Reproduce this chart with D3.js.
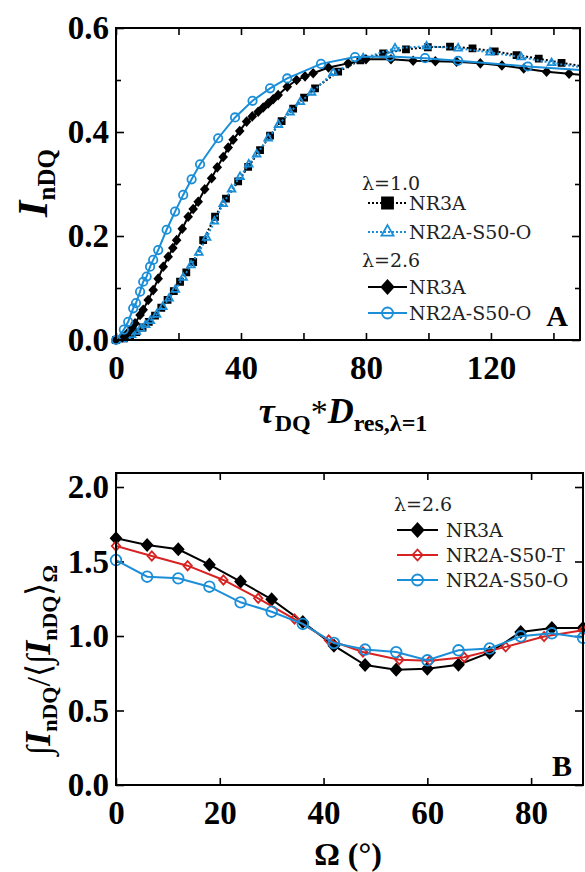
<!DOCTYPE html>
<html><head><meta charset="utf-8">
<script src="https://cdn.jsdelivr.net/npm/d3@7"></script>
<style>body{margin:0;background:#fff} svg{display:block}</style>
</head><body><svg id="c" width="585" height="872"></svg>
<script>
// ---------- Panel A data ----------
const aXTicks = [0, 40, 80, 120];
const aYTicks = [0.0, 0.2, 0.4, 0.6];
// lambda = 1.0, NR3A (black squares, dotted)
const a10_nr3a_x = [0, 2.5, 4.5, 6.5, 8.5, 10.5, 12.5, 14.5, 16.5, 18.5, 20.5, 22.5, 24.7, 27.9, 31.7, 35.2, 39.1, 42.3, 46.1, 49.3, 53, 56.7, 60.2, 63.7, 71.1, 78.2, 85.5, 92.8, 99.8, 106.9, 114.1, 121.2, 128.2, 135.3, 142.6, 149.7];
const a10_nr3a_y = [0, 0.003, 0.008, 0.015, 0.024, 0.035, 0.047, 0.062, 0.077, 0.094, 0.112, 0.130, 0.150, 0.192, 0.237, 0.272, 0.305, 0.333, 0.365, 0.393, 0.421, 0.445, 0.466, 0.484, 0.516, 0.538, 0.551, 0.559, 0.563, 0.564, 0.561, 0.555, 0.548, 0.541, 0.533, 0.526];
// lambda = 1.0, NR2A-S50-O (blue open triangles, dotted)
const a10_o_x = [0, 2, 3.5, 5, 6.5, 8, 9.5, 11, 13, 15, 17, 19, 21.5, 24, 26.5, 29, 31.5, 34.3, 37, 39.7, 42.5, 45, 48.7, 52, 55.7, 59, 62.6, 69.5, 79.1, 89.3, 99.4, 109.5, 119.7, 129.6, 139.4, 149.3];
const a10_o_y = [0, 0.002, 0.005, 0.010, 0.016, 0.022, 0.029, 0.037, 0.049, 0.064, 0.080, 0.097, 0.120, 0.144, 0.168, 0.197, 0.228, 0.262, 0.290, 0.314, 0.338, 0.357, 0.388, 0.414, 0.438, 0.458, 0.476, 0.514, 0.542, 0.561, 0.565, 0.561, 0.553, 0.544, 0.533, 0.524];
// lambda = 2.6, NR3A (black diamonds, solid)
const a26_nr3a_x = [0, 2, 3.5, 5, 6.1, 7.7, 8.7, 10.3, 11.9, 13.5, 15.1, 16.7, 18.2, 19.4, 21.2, 23.1, 24.7, 26.3, 28.4, 30.6, 32.4, 34.3, 35.9, 37.5, 39.6, 41.8, 43.6, 45.5, 47.1, 48.7, 50.3, 51.9, 54.8, 57.8, 60.5, 63.1, 68, 74.3, 80, 88, 95.1, 102.2, 109, 116.6, 123.5, 130.5, 137.8, 145, 155];
const a26_nr3a_y = [0, 0.005, 0.012, 0.022, 0.032, 0.048, 0.058, 0.077, 0.096, 0.118, 0.141, 0.160, 0.177, 0.192, 0.214, 0.237, 0.252, 0.266, 0.290, 0.311, 0.332, 0.352, 0.370, 0.385, 0.402, 0.420, 0.430, 0.439, 0.447, 0.455, 0.463, 0.471, 0.487, 0.500, 0.507, 0.513, 0.524, 0.532, 0.540, 0.540, 0.537, 0.536, 0.535, 0.532, 0.528, 0.522, 0.516, 0.512, 0.507];
// lambda = 2.6, NR2A-S50-O (blue open circles, solid)
const a26_o_x = [0, 2.5, 3.9, 5.5, 6.4, 7.7, 8.7, 9.8, 10.9, 11.9, 13.5, 16.2, 18.9, 21.5, 24.2, 26.9, 32.7, 38.1, 43.7, 49.3, 54.8, 65.6, 76.5, 87.7, 98.9, 109.5, 131.8, 154];
const a26_o_y = [0, 0.020, 0.035, 0.061, 0.071, 0.093, 0.112, 0.122, 0.141, 0.154, 0.173, 0.212, 0.247, 0.279, 0.309, 0.338, 0.388, 0.428, 0.460, 0.484, 0.503, 0.531, 0.544, 0.545, 0.542, 0.537, 0.526, 0.517];

// ---------- Panel B data ----------
const bXTicks = [0, 20, 40, 60, 80];
const bYTicks = [0.0, 0.5, 1.0, 1.5, 2.0];
const b_nr3a_x = [0, 6, 12, 18, 24, 30, 36, 42, 48, 54, 60, 66, 72, 78, 84, 90];
const b_nr3a_y = [1.656, 1.611, 1.582, 1.479, 1.365, 1.246, 1.094, 0.935, 0.805, 0.774, 0.781, 0.807, 0.888, 1.027, 1.054, 1.054];
const b_t_x = [0, 6.9, 13.8, 20.7, 27.4, 34.4, 41, 47.6, 54.6, 60.5, 67.1, 75.1, 82.5, 90];
const b_t_y = [1.604, 1.537, 1.472, 1.376, 1.253, 1.114, 0.973, 0.893, 0.841, 0.834, 0.857, 0.927, 0.996, 1.038];
const b_o_x = [0, 6, 12, 18, 24, 30, 36, 42, 48, 54, 60, 66, 72, 78, 84, 90];
const b_o_y = [1.510, 1.398, 1.387, 1.331, 1.226, 1.163, 1.081, 0.953, 0.909, 0.892, 0.837, 0.904, 0.916, 0.998, 1.018, 0.988];

// ---------- drawing ----------
const svg = d3.select('#c');
const FONT = '"Liberation Serif","Times New Roman",serif';
const LFONT = '"DejaVu Serif",serif';
const BLUE = '#1b8ed8', RED = '#d62222', BLACK = '#000';
const zip = (xs, ys) => xs.map((x, i) => [x, ys[i]]);

function shape(g, type, x, y, s, color, fill) {
  let p;
  if (type === 'diamond') p = `M${x},${y - s * 1.1}L${x + s},${y}L${x},${y + s * 1.1}L${x - s},${y}Z`;
  else if (type === 'square') p = `M${x - s},${y - s}h${2 * s}v${2 * s}h${-2 * s}Z`;
  else if (type === 'triangle') p = `M${x},${y - s * 1.15}L${x + s},${y + s * 0.6}L${x - s},${y + s * 0.6}Z`;
  if (type === 'circle') {
    g.append('circle').attr('cx', x).attr('cy', y).attr('r', s)
      .attr('fill', fill ? color : 'none').attr('stroke', color).attr('stroke-width', 1.8);
  } else {
    g.append('path').attr('d', p).attr('fill', fill ? color : 'none')
      .attr('stroke', color).attr('stroke-width', 1.8);
  }
}

function panel(cfg) {
  const { x, y, id } = cfg;
  const [x0, x1] = x.range(), [y0, y1] = y.range();
  const g = svg.append('g');
  g.append('clipPath').attr('id', id).append('rect')
    .attr('x', x0).attr('y', y1).attr('width', x1 - x0).attr('height', y0 - y1);
  const font = a => a.selectAll('text').attr('font-family', FONT).attr('font-weight', 'bold')
    .attr('font-size', 33).attr('fill', '#000');
  const clean = a => { a.select('.domain').remove(); a.selectAll('line').attr('stroke', '#000').attr('stroke-width', 1.6); };
  const bx = g.append('g').attr('transform', `translate(0,${y0})`)
    .call(d3.axisBottom(x).tickValues(cfg.xTicksAll).tickSizeInner(-7).tickSizeOuter(0).tickPadding(16)
      .tickFormat(d => cfg.xTicks.includes(d) ? d3.format('d')(d) : ''));
  font(bx); clean(bx);
  const tx = g.append('g').attr('transform', `translate(0,${y1})`)
    .call(d3.axisTop(x).tickValues(cfg.xTicksAll).tickSizeInner(-7).tickSizeOuter(0).tickFormat(''));
  clean(tx);
  const ly = g.append('g').attr('transform', `translate(${x0},0)`)
    .call(d3.axisLeft(y).tickValues(cfg.yTicks).tickSizeInner(-8).tickSizeOuter(0).tickPadding(7)
      .tickFormat(d3.format('.1f')));
  font(ly); clean(ly);
  const ry = g.append('g').attr('transform', `translate(${x1},0)`)
    .call(d3.axisRight(y).tickValues(cfg.yTicks).tickSizeInner(-8).tickSizeOuter(0).tickFormat(''));
  clean(ry);
  if (cfg.yMinor) {
    const m1 = g.append('g').attr('transform', `translate(${x0},0)`)
      .call(d3.axisLeft(y).tickValues(cfg.yMinor).tickSizeInner(-5).tickSizeOuter(0).tickFormat(''));
    clean(m1);
    const m2 = g.append('g').attr('transform', `translate(${x1},0)`)
      .call(d3.axisRight(y).tickValues(cfg.yMinor).tickSizeInner(-5).tickSizeOuter(0).tickFormat(''));
    clean(m2);
  }
  const line = d3.line().x(d => x(d[0])).y(d => y(d[1]));
  cfg.series.forEach(s => {
    const pts = zip(s.x, s.y);
    g.append('path').attr('d', line(pts)).attr('fill', 'none').attr('stroke', s.color)
      .attr('stroke-width', s.lw || 2).attr('stroke-dasharray', s.dash || null)
      .attr('clip-path', `url(#${id})`);
    const mg = g.append('g');
    pts.filter(d => d[0] <= x.domain()[1] + 0.01).forEach(d =>
      shape(mg, s.marker, x(d[0]), y(d[1]), s.ms, s.color, s.fill));
  });
  g.append('rect').attr('x', x0).attr('y', y1).attr('width', x1 - x0).attr('height', y0 - y1)
    .attr('fill', 'none').attr('stroke', '#000').attr('stroke-width', 2);
  return g;
}

// Panel A
const xA = d3.scaleLinear().domain([0, 148.5]).range([116, 580]);
const yA = d3.scaleLinear().domain([0, 0.6]).range([340, 28]);
panel({
  id: 'clipA', x: xA, y: yA, xTicks: aXTicks, xTicksAll: [0, 20, 40, 60, 80, 100, 120, 140],
  yTicks: aYTicks, yMinor: [0.1, 0.3, 0.5],
  series: [
    { x: a10_nr3a_x, y: a10_nr3a_y, color: BLACK, dash: '2,2', marker: 'square', ms: 3, fill: true },
    { x: a10_o_x, y: a10_o_y, color: BLUE, dash: '2,2', marker: 'triangle', ms: 3.8, fill: false },
    { x: a26_nr3a_x, y: a26_nr3a_y, color: BLACK, marker: 'diamond', ms: 3.6, fill: true },
    { x: a26_o_x, y: a26_o_y, color: BLUE, marker: 'circle', ms: 4.2, fill: false }
  ]
});

// Panel B
const xB = d3.scaleLinear().domain([0, 90]).range([116, 583]);
const yB = d3.scaleLinear().domain([0, 2.094]).range([785, 473]);
panel({
  id: 'clipB', x: xB, y: yB, xTicks: bXTicks, xTicksAll: bXTicks,
  yTicks: bYTicks,
  series: [
    { x: b_nr3a_x, y: b_nr3a_y, color: BLACK, marker: 'diamond', ms: 5.2, fill: true },
    { x: b_t_x, y: b_t_y, color: RED, marker: 'diamond', ms: 4.2, fill: false },
    { x: b_o_x, y: b_o_y, color: BLUE, marker: 'circle', ms: 5.3, fill: false }
  ]
});

// ---------- legends ----------
function legendRow(x0, x1, gap, yy, color, dash, marker, ms, fill, label) {
  svg.append('line').attr('x1', x0).attr('x2', x1).attr('y1', yy).attr('y2', yy)
    .attr('stroke', color).attr('stroke-width', 2).attr('stroke-dasharray', dash || null);
  shape(svg, marker, (x0 + x1) / 2, yy, ms, color, fill);
  svg.append('text').attr('x', x1 + gap).attr('y', yy + 7).text(label)
    .attr('font-family', LFONT).attr('font-size', 19).attr('fill', '#222');
}
function ltext(x, y, t) {
  svg.append('text').attr('x', x).attr('y', y).text(t)
    .attr('font-family', LFONT).attr('font-size', 19).attr('fill', '#222');
}
ltext(362, 190, 'λ=1.0');
legendRow(368, 407, 2, 203, BLACK, '2,2', 'square', 5.5, true, 'NR3A');
legendRow(368, 407, 2, 232, BLUE, '2,2', 'triangle', 6, false, 'NR2A-S50-O');
ltext(362, 267, 'λ=2.6');
legendRow(368, 407, 2, 287, BLACK, null, 'diamond', 6, true, 'NR3A');
legendRow(368, 407, 2, 313, BLUE, null, 'circle', 5.5, false, 'NR2A-S50-O');
svg.append('text').attr('x', 557).attr('y', 326).attr('text-anchor', 'middle').text('A')
  .attr('font-family', FONT).attr('font-weight', 'bold').attr('font-size', 30);

ltext(394, 511, 'λ=2.6');
legendRow(397, 438, 8, 530, BLACK, null, 'diamond', 6, true, 'NR3A');
legendRow(397, 438, 8, 555, RED, null, 'diamond', 5, false, 'NR2A-S50-T');
legendRow(397, 438, 8, 580, BLUE, null, 'circle', 5.5, false, 'NR2A-S50-O');
svg.append('text').attr('x', 562).attr('y', 776).attr('text-anchor', 'middle').text('B')
  .attr('font-family', FONT).attr('font-weight', 'bold').attr('font-size', 30);

// ---------- axis titles ----------
const tA = svg.append('text').attr('x', 343).attr('y', 423).attr('text-anchor', 'middle')
  .attr('font-family', FONT).attr('fill', '#000');
tA.append('tspan').text('τ').attr('font-style', 'italic').attr('font-weight', 'bold').attr('font-size', 36);
tA.append('tspan').text('DQ').attr('font-weight', 'bold').attr('font-size', 24).attr('dy', 8);
tA.append('tspan').text('*').attr('font-size', 34).attr('dy', -8);
tA.append('tspan').text('D').attr('font-style', 'italic').attr('font-weight', 'bold').attr('font-size', 36);
tA.append('tspan').text('res,λ=1').attr('font-weight', 'bold').attr('font-size', 24).attr('dy', 8);

const yAt = svg.append('text').attr('transform', 'translate(47,183) rotate(-90)').attr('text-anchor', 'middle')
  .attr('font-family', FONT).attr('fill', '#000');
yAt.append('tspan').text('I').attr('font-style', 'italic').attr('font-weight', 'bold').attr('font-size', 42);
yAt.append('tspan').text('nDQ').attr('font-weight', 'bold').attr('font-size', 25).attr('dy', 8);

const tB = svg.append('text').attr('x', 348).attr('y', 865).attr('text-anchor', 'middle')
  .attr('font-family', FONT).attr('font-weight', 'bold').attr('font-size', 32).attr('fill', '#000');
tB.text('Ω (°)');

const yBt = svg.append('text').attr('transform', 'translate(50,660) rotate(-90)').attr('text-anchor', 'middle')
  .attr('font-family', FONT).attr('fill', '#000');
yBt.append('tspan').text('∫').attr('font-size', 34);
yBt.append('tspan').text('I').attr('font-style', 'italic').attr('font-weight', 'bold').attr('font-size', 36);
yBt.append('tspan').text('nDQ').attr('font-weight', 'bold').attr('font-size', 22).attr('dy', 7);
yBt.append('tspan').text('/⟨∫').attr('font-size', 34).attr('dy', -7);
yBt.append('tspan').text('I').attr('font-style', 'italic').attr('font-weight', 'bold').attr('font-size', 36);
yBt.append('tspan').text('nDQ').attr('font-weight', 'bold').attr('font-size', 22).attr('dy', 7);
yBt.append('tspan').text('⟩').attr('font-size', 34).attr('dy', -7);
yBt.append('tspan').text('Ω').attr('font-weight', 'bold').attr('font-size', 22).attr('dy', 7);
</script>
</body></html>
